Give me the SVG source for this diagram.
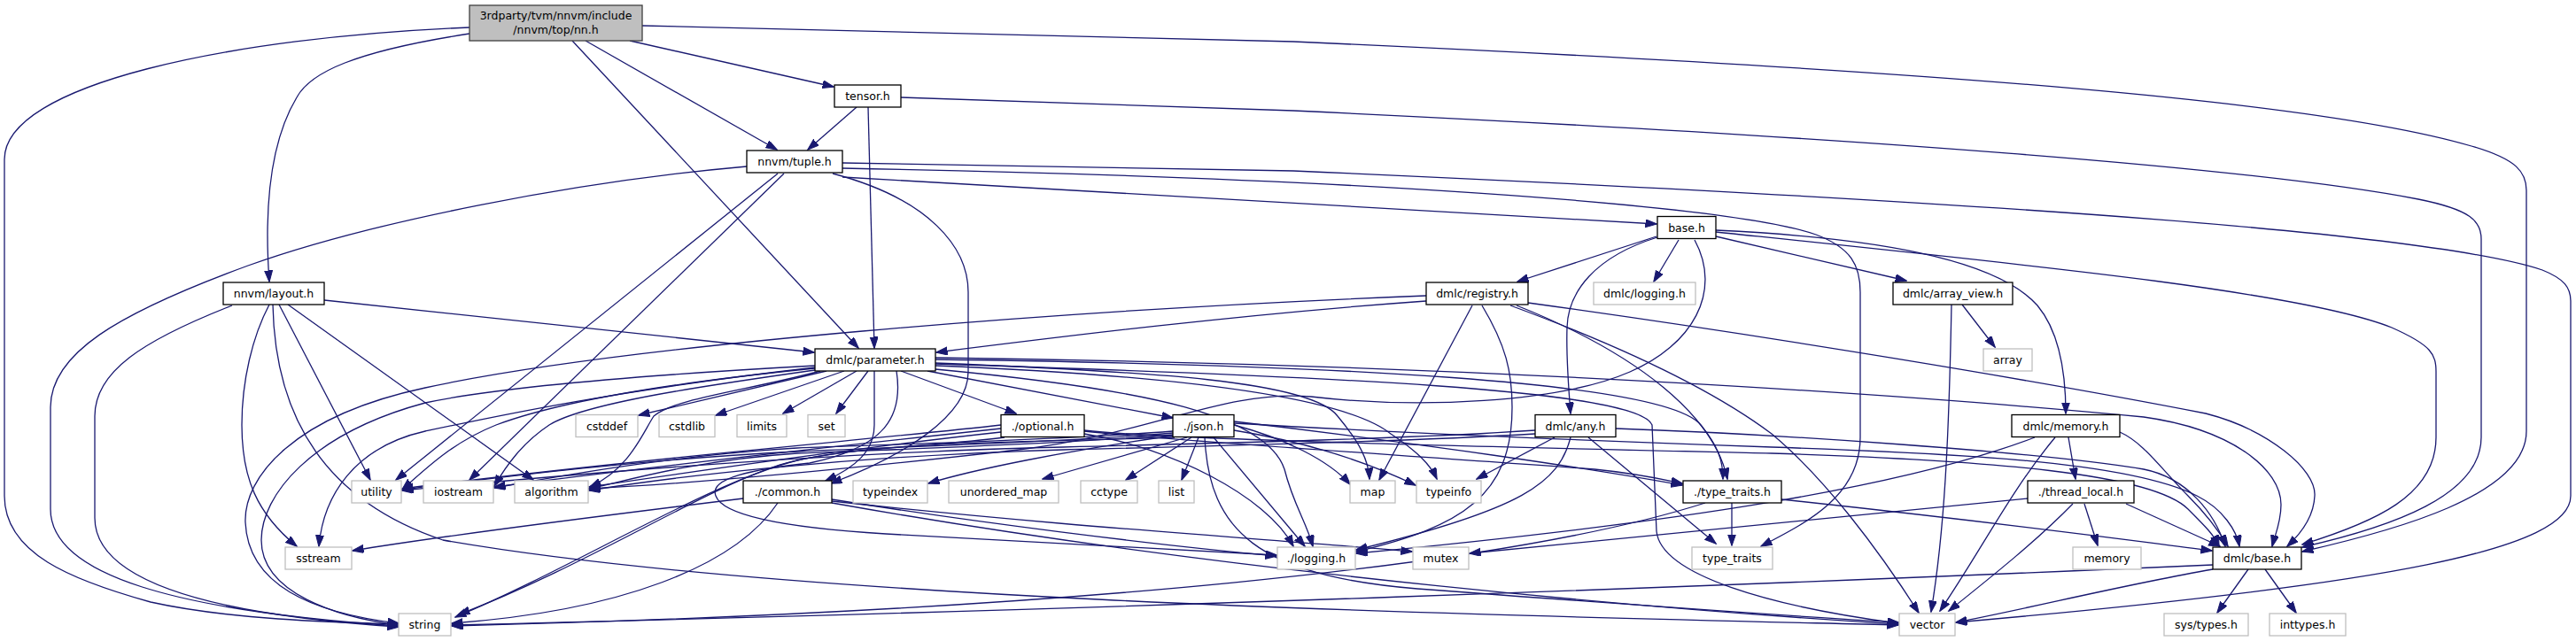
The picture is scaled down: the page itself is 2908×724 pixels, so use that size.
<svg xmlns="http://www.w3.org/2000/svg" width="2908" height="724" viewBox="0 0 2908 724">
<style>
.e{fill:none;stroke:#191970;stroke-width:1.3;marker-end:url(#a)}
.n rect{fill:#fff;stroke:#000;stroke-width:1.3}
.x rect{fill:#fff;stroke:#bfbfbf;stroke-width:1.3}
text{font-family:"DejaVu Sans","Liberation Sans",sans-serif;font-size:12.5px;text-anchor:middle;fill:#000}
</style>
<defs>
<marker id="a" markerWidth="14" markerHeight="10" refX="12.5" refY="4.5" orient="auto" markerUnits="userSpaceOnUse"><path d="M0,0 L13,4.5 L0,9 z" fill="#191970" stroke="#191970" stroke-width="1"/></marker>
</defs>
<rect width="2908" height="724" fill="#fff"/>
<g id="edges">
<path class="e" d="M530,31 C260,42 5,95 5,180 L5,560 C5,625 80,655 170,680 C260,700 380,703 450,705"/>
<path class="e" d="M530,38 C400,58 350,82 335,110 C305,160 298,235 304,318"/>
<path class="e" d="M661,46 L877,169"/>
<path class="e" d="M711,46 L941,98"/>
<path class="e" d="M646,46 L969,393"/>
<path class="e" d="M725,29 L1460,47 C2200,80 2620,115 2790,165 C2842,180 2852,195 2852,215 L2852,487 C2852,560 2700,600 2599,623"/>
<path class="e" d="M967,121 L912,169"/>
<path class="e" d="M980,121 L987,393"/>
<path class="e" d="M1017,110 L1460,125 C2100,155 2550,190 2730,225 C2790,237 2801,250 2801,270 L2801,494 C2801,560 2700,595 2599,618"/>
<path class="e" d="M843,188 C650,205 420,250 280,300 C130,355 57,400 57,460 L57,575 C57,650 200,690 450,707"/>
<path class="e" d="M878,196 L447,542"/>
<path class="e" d="M885,196 L530,542"/>
<path class="e" d="M940,196 C1050,225 1093,280 1093,330 L1093,420 C1093,470 1020,515 938,546"/>
<path class="e" d="M951,200 L1870,253"/>
<path class="e" d="M951,184 L1460,193 C2300,230 2750,265 2870,305 C2895,315 2902,325 2902,340 L2902,560 C2902,620 2700,660 2208,703"/>
<path class="e" d="M951,190 C1500,200 1950,230 2050,265 C2090,280 2100,300 2100,330 L2100,494 C2100,560 2040,590 1988,617"/>
<path class="e" d="M366,339 L919,398"/>
<path class="e" d="M262,345 C160,385 107,420 107,470 L107,585 C107,660 250,695 450,708"/>
<path class="e" d="M304,344 C285,380 273,430 273,480 C273,540 290,580 335,617"/>
<path class="e" d="M308,344 C310,450 350,560 500,610 C900,680 1700,695 2143,706"/>
<path class="e" d="M315,344 L418,542"/>
<path class="e" d="M325,344 L602,542"/>
<path class="e" d="M1870,267 L1713,318"/>
<path class="e" d="M1871,268 C1800,290 1770,330 1769,370 C1768,400 1770,430 1773,467"/>
<path class="e" d="M1895,271 L1867,318"/>
<path class="e" d="M1937,260 C2150,270 2260,300 2300,345 C2325,375 2332,420 2332,467"/>
<path class="e" d="M1937,267 L2152,317"/>
<path class="e" d="M1937,262 C2300,300 2600,330 2700,370 C2745,390 2750,400 2750,420 L2750,494 C2750,560 2680,590 2599,615"/>
<path class="e" d="M1913,271 C1945,330 1910,390 1840,420 C1760,455 1600,462 1480,448 C1380,440 1300,490 1150,508 C1000,525 800,545 665,552"/>
<path class="e" d="M1610,334 C1200,350 700,390 480,438 C330,470 275,540 277,590 C280,660 350,692 450,704"/>
<path class="e" d="M1610,340 C1400,355 1200,380 1057,398"/>
<path class="e" d="M1662,345 L1557,542"/>
<path class="e" d="M1673,345 C1700,390 1707,420 1707,460 C1707,560 1650,595 1531,623"/>
<path class="e" d="M1705,345 C1800,380 1920,430 2000,490 C2060,540 2120,620 2166,692"/>
<path class="e" d="M1712,345 C1850,400 1935,470 1950,541"/>
<path class="e" d="M1725,342 C2000,380 2300,430 2490,467 C2560,485 2615,530 2613,560 C2612,585 2595,605 2582,617"/>
<path class="e" d="M933,419 L721,469"/>
<path class="e" d="M953,419 L808,469"/>
<path class="e" d="M967,419 L884,467"/>
<path class="e" d="M980,419 L944,467"/>
<path class="e" d="M1017,419 L1147,467"/>
<path class="e" d="M1047,419 L1324,472"/>
<path class="e" d="M920,413 C700,425 550,440 480,455 C350,490 295,560 295,610 C295,670 380,697 450,706"/>
<path class="e" d="M920,415 C700,440 560,470 480,487 C400,505 365,560 360,617"/>
<path class="e" d="M920,416 C780,430 640,450 560,480 C510,500 480,530 454,553"/>
<path class="e" d="M920,418 C800,435 660,455 620,480 C590,500 572,525 558,549"/>
<path class="e" d="M926,419 C850,440 760,450 738,470 C725,490 710,530 666,550"/>
<path class="e" d="M987,419 L987,480 C987,510 965,528 932,543"/>
<path class="e" d="M1012,419 C1020,470 1000,505 914,523 C850,530 800,540 808,560 C815,580 870,595 1000,603 C1200,615 1350,622 1441,627"/>
<path class="e" d="M1056,410 C1300,420 1480,430 1510,470 C1535,500 1545,520 1546,541"/>
<path class="e" d="M1056,413 C1350,425 1520,450 1570,490 C1600,510 1615,525 1622,541"/>
<path class="e" d="M1056,417 C1300,440 1430,470 1450,530 C1460,570 1475,590 1482,617"/>
<path class="e" d="M1056,406 C1500,412 1880,430 1920,480 C1940,505 1945,520 1945,541"/>
<path class="e" d="M1056,411 C1500,425 1850,440 1865,480 L1870,600 C1875,650 2000,685 2143,704"/>
<path class="e" d="M1056,404 C1700,412 2200,450 2420,471 C2520,485 2575,530 2575,570 C2575,590 2568,605 2565,617"/>
<path class="e" d="M1353,494 L1334,542"/>
<path class="e" d="M1345,494 L1271,542"/>
<path class="e" d="M1340,494 L1177,541"/>
<path class="e" d="M1324,492 C1200,510 1100,530 1048,546"/>
<path class="e" d="M1370,494 L1473,617"/>
<path class="e" d="M1360,494 C1365,600 1420,650 1600,665 C1800,680 2000,695 2143,703"/>
<path class="e" d="M1393,486 C1480,500 1550,525 1598,548"/>
<path class="e" d="M1393,480 C1450,495 1500,520 1524,547"/>
<path class="e" d="M1393,476 C1600,500 1800,530 1899,548"/>
<path class="e" d="M1393,478 C1600,490 1800,498 2000,505 C2200,512 2400,520 2480,560 C2510,575 2525,600 2528,617"/>
<path class="e" d="M1326,494 C1150,500 1000,498 900,520 C800,545 650,640 514,697"/>
<path class="e" d="M1324,487 C1200,497 1000,502 900,506 C750,515 620,540 558,551"/>
<path class="e" d="M1324,491 C1200,502 1000,508 900,512 C780,520 700,545 665,552"/>
<path class="e" d="M1324,489 C1200,500 1000,505 900,510 C700,520 520,545 454,553"/>
<path class="e" d="M1134,494 C1050,505 950,505 880,525 C790,555 660,640 518,694"/>
<path class="e" d="M1130,480 C1000,495 700,520 454,552"/>
<path class="e" d="M1130,484 C1000,498 750,525 558,550"/>
<path class="e" d="M1130,488 C1000,502 800,530 665,550"/>
<path class="e" d="M1224,490 C1320,505 1430,560 1460,617"/>
<path class="e" d="M1224,487 C1323,498 1600,515 1800,530 C1850,535 1880,542 1899,546"/>
<path class="e" d="M1224,486 C1323,497 1700,505 2000,512 C2250,520 2430,535 2470,575 C2490,595 2500,605 2505,617"/>
<path class="e" d="M1755,494 L1667,541"/>
<path class="e" d="M1773,494 C1760,545 1720,575 1531,621"/>
<path class="e" d="M1793,494 L1937,614"/>
<path class="e" d="M1824,484 C2000,490 2300,510 2420,530 C2470,540 2500,580 2512,617"/>
<path class="e" d="M1733,486 C1600,495 1400,500 1200,505 C900,512 600,540 454,554"/>
<path class="e" d="M1733,490 C1600,498 1400,503 1200,508 C950,515 750,540 665,554"/>
<path class="e" d="M2335,494 L2343,541"/>
<path class="e" d="M2320,494 C2270,554 2237,621 2190,690"/>
<path class="e" d="M2297,494 C2150,550 1900,590 1531,625"/>
<path class="e" d="M2393,488 C2420,500 2440,530 2470,560 C2490,580 2505,600 2515,617"/>
<path class="e" d="M2353,569 L2368,616"/>
<path class="e" d="M2340,569 C2300,610 2250,650 2200,690"/>
<path class="e" d="M2289,563 C2000,590 1800,610 1659,625"/>
<path class="e" d="M2400,569 L2506,617"/>
<path class="e" d="M1955,568 L1955,616"/>
<path class="e" d="M1925,568 C1700,640 1200,690 510,707"/>
<path class="e" d="M2011,564 C2300,595 2400,610 2497,622"/>
<path class="e" d="M2203,344 C2200,500 2195,600 2180,691"/>
<path class="e" d="M2215,344 L2252,392"/>
<path class="e" d="M839,563 C700,580 500,605 398,622"/>
<path class="e" d="M878,568 C830,640 700,690 510,704"/>
<path class="e" d="M939,564 C1100,590 1300,615 1441,628"/>
<path class="e" d="M939,566 C1200,595 1450,610 1594,623"/>
<path class="e" d="M939,568 C1400,650 1900,690 2143,705"/>
<path class="e" d="M2538,643 L2503,692"/>
<path class="e" d="M2557,643 L2592,692"/>
<path class="e" d="M2498,638 C2000,660 1200,690 510,706"/>
<path class="e" d="M2498,643 C2400,660 2300,685 2208,703"/>
</g>
<g id="nn"><rect x="530" y="6" width="195" height="40" fill="#bfbfbf" stroke="#404040" stroke-width="1.3"/><text x="627.5" y="22">3rdparty/tvm/nnvm/include</text><text x="627.5" y="37.5">/nnvm/top/nn.h</text></g>
<g id="tensor" class="n"><rect x="942" y="96" width="75" height="25"/><text x="979.5" y="113">tensor.h</text></g>
<g id="tuple" class="n"><rect x="843" y="170" width="108" height="25"/><text x="897" y="187">nnvm/tuple.h</text></g>
<g id="base" class="n"><rect x="1871" y="244.5" width="66" height="25"/><text x="1904" y="261.5">base.h</text></g>
<g id="layout" class="n"><rect x="252" y="319" width="114" height="25"/><text x="309" y="336">nnvm/layout.h</text></g>
<g id="registry" class="n"><rect x="1610" y="319" width="115" height="25"/><text x="1667.5" y="336">dmlc/registry.h</text></g>
<g id="dlogging" class="x"><rect x="1799" y="319" width="115" height="25"/><text x="1856.5" y="336">dmlc/logging.h</text></g>
<g id="arrayview" class="n"><rect x="2137" y="319" width="135" height="25"/><text x="2204.5" y="336">dmlc/array_view.h</text></g>
<g id="parameter" class="n"><rect x="920" y="394" width="136" height="25"/><text x="988" y="411">dmlc/parameter.h</text></g>
<g id="array" class="x"><rect x="2239" y="394" width="55" height="25"/><text x="2266.5" y="411">array</text></g>
<g id="cstddef" class="x"><rect x="650" y="468.5" width="70" height="25"/><text x="685" y="485.5">cstddef</text></g>
<g id="cstdlib" class="x"><rect x="744" y="468.5" width="63" height="25"/><text x="775.5" y="485.5">cstdlib</text></g>
<g id="limits" class="x"><rect x="832" y="468.5" width="56" height="25"/><text x="860" y="485.5">limits</text></g>
<g id="set" class="x"><rect x="912" y="468.5" width="42" height="25"/><text x="933" y="485.5">set</text></g>
<g id="optional" class="n"><rect x="1130" y="468.5" width="94" height="25"/><text x="1177" y="485.5">./optional.h</text></g>
<g id="json" class="n"><rect x="1324" y="468.5" width="69" height="25"/><text x="1358.5" y="485.5">./json.h</text></g>
<g id="any" class="n"><rect x="1733" y="468.5" width="91" height="25"/><text x="1778.5" y="485.5">dmlc/any.h</text></g>
<g id="memoryh" class="n"><rect x="2271" y="468.5" width="122" height="25"/><text x="2332" y="485.5">dmlc/memory.h</text></g>
<g id="utility" class="x"><rect x="397" y="543" width="56" height="25"/><text x="425" y="560">utility</text></g>
<g id="iostream" class="x"><rect x="478" y="543" width="79" height="25"/><text x="517.5" y="560">iostream</text></g>
<g id="algorithm" class="x"><rect x="581" y="543" width="83" height="25"/><text x="622.5" y="560">algorithm</text></g>
<g id="common" class="n"><rect x="839" y="543" width="100" height="25"/><text x="889" y="560">./common.h</text></g>
<g id="typeindex" class="x"><rect x="963" y="543" width="84" height="25"/><text x="1005" y="560">typeindex</text></g>
<g id="unordered_map" class="x"><rect x="1071" y="543" width="124" height="25"/><text x="1133" y="560">unordered_map</text></g>
<g id="cctype" class="x"><rect x="1220" y="543" width="64" height="25"/><text x="1252" y="560">cctype</text></g>
<g id="list" class="x"><rect x="1308" y="543" width="40" height="25"/><text x="1328" y="560">list</text></g>
<g id="map" class="x"><rect x="1524" y="543" width="51" height="25"/><text x="1549.5" y="560">map</text></g>
<g id="typeinfo" class="x"><rect x="1599" y="543" width="73" height="25"/><text x="1635.5" y="560">typeinfo</text></g>
<g id="typetraitsh" class="n"><rect x="1900" y="543" width="111" height="25"/><text x="1955.5" y="560">./type_traits.h</text></g>
<g id="threadlocal" class="n"><rect x="2289" y="543" width="120" height="25"/><text x="2349" y="560">./thread_local.h</text></g>
<g id="sstream" class="x"><rect x="322" y="618" width="75" height="25"/><text x="359.5" y="635">sstream</text></g>
<g id="logging" class="x"><rect x="1442" y="618" width="88" height="25"/><text x="1486" y="635">./logging.h</text></g>
<g id="mutex" class="x"><rect x="1595" y="618" width="63" height="25"/><text x="1626.5" y="635">mutex</text></g>
<g id="typetraits" class="x"><rect x="1910" y="618" width="91" height="25"/><text x="1955.5" y="635">type_traits</text></g>
<g id="memory" class="x"><rect x="2340" y="618" width="77" height="25"/><text x="2378.5" y="635">memory</text></g>
<g id="dbase" class="n"><rect x="2498" y="618" width="100" height="25"/><text x="2548" y="635">dmlc/base.h</text></g>
<g id="string" class="x"><rect x="450" y="693" width="59" height="25"/><text x="479.5" y="710">string</text></g>
<g id="vector" class="x"><rect x="2144" y="693" width="63" height="25"/><text x="2175.5" y="710">vector</text></g>
<g id="systypes" class="x"><rect x="2443" y="693" width="95" height="25"/><text x="2490.5" y="710">sys/types.h</text></g>
<g id="inttypes" class="x"><rect x="2562" y="693" width="86" height="25"/><text x="2605" y="710">inttypes.h</text></g>
</svg>
